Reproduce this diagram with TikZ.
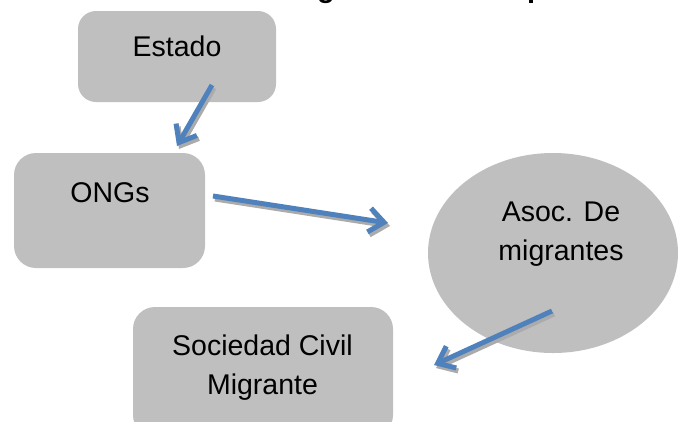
\documentclass[tikz,border=0pt]{standalone}
\usepackage{fontspec}
\setmainfont{Liberation Sans}
\usetikzlibrary{arrows.meta,shapes.geometric}
\definecolor{boxgray}{HTML}{BFBFBF}
\definecolor{arrblue}{HTML}{4F81BD}
\definecolor{shadowgray}{HTML}{ABABAB}
\tikzset{
  every node/.style={inner sep=0pt, outer sep=0pt},
  rbox/.style={fill=boxgray, draw=none, rounded corners=20pt},
  lbl/.style={font=\fontsize{28.5}{39}\selectfont, align=center, anchor=base},
  conn/.style={line width=5pt, color=arrblue, -{Straight Barb[length=15pt,width=24pt,line width=5pt]}},
  connshadow/.style={line width=5pt, color=shadowgray, -{Straight Barb[length=15pt,width=24pt,line width=5pt]}},
}
\begin{document}
\begin{tikzpicture}[x=1pt,y=-1pt]
\useasboundingbox (0,0) rectangle (679,421);
% cut-off title fragments
\node[anchor=base west, font=\fontsize{29}{33}\selectfont\bfseries] (tg) at (317,-3) {g};
\node[anchor=base west, font=\fontsize{29}{33}\selectfont\bfseries] (tp) at (527,-3) {p};
% shapes
\node[rbox, minimum width=198pt, minimum height=91pt, rounded corners=18pt] (estado) at (177,56.5) {};
\node[rbox, minimum width=191pt, minimum height=115pt, rounded corners=22pt] (ongs) at (109.5,210.5) {};
\node[ellipse, fill=boxgray, minimum width=250pt, minimum height=200pt] (asoc) at (553,253) {};
\node[rbox, minimum width=260pt, minimum height=130pt, rounded corners=22pt] (soc) at (263,372) {};
% labels
\node[lbl] (estadoT) at (177,56.7) {Estado};
\node[lbl] (ongsT) at (110,202) {ONGs};
\node[lbl] (asocT) at (561,260) {Asoc. De\\migrantes};
\node[lbl] (socT) at (262.5,394) {Sociedad Civil\\Migrante};
% arrow end points
\coordinate (a1s) at (212,85);
\coordinate (a1e) at (177,146);
\coordinate (a2s) at (213,196);
\coordinate (a2e) at (388,223);
\coordinate (a3s) at (552,311);
\coordinate (a3e) at (434,365);
\begin{scope}[transform canvas={shift={(2pt,-3pt)}}]
\draw[connshadow] (a1s) -- (a1e);
\draw[connshadow] (a2s) -- (a2e);
\draw[connshadow] (a3s) -- (a3e);
\end{scope}
\draw[conn] (a1s) -- (a1e);
\draw[conn] (a2s) -- (a2e);
\draw[conn] (a3s) -- (a3e);
\end{tikzpicture}
\end{document}
